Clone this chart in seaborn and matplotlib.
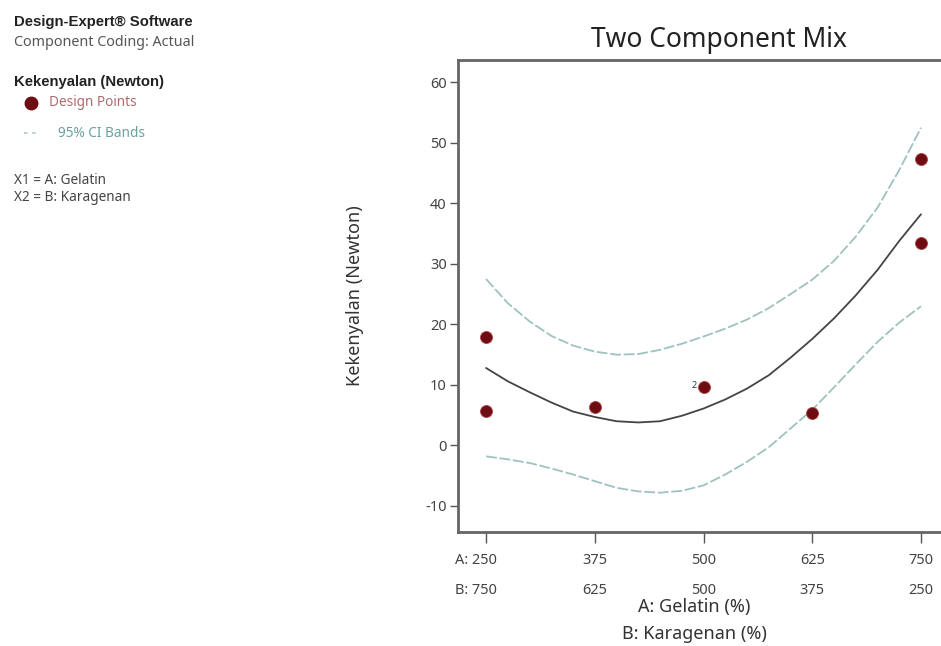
import matplotlib
matplotlib.use("Agg")
import matplotlib.pyplot as plt
from matplotlib.transforms import ScaledTranslation
import seaborn as sns
import pandas as pd

sns.set_theme(style="white")
plt.rcParams['font.family'] = ['Noto Sans', 'DejaVu Sans']

# Design points (A: Gelatin level, response)
point_a = [250, 250, 375, 500, 625, 750, 750]
point_y = [18.0, 5.7, 6.3, 9.6, 5.4, 47.3, 33.5]

# Curve readings (fitted response and 95% CI bands)
curve_a = [250, 275, 300, 325, 350, 375, 400, 425, 450, 475, 500,
           525, 550, 575, 600, 625, 650, 675, 700, 725, 750]
fit_y = [12.8, 10.6, 8.8, 7.1, 5.6, 4.7, 4.0, 3.8, 4.0, 4.9, 6.1,
         7.6, 9.4, 11.6, 14.5, 17.6, 21.0, 24.8, 29.0, 33.8, 38.2]
upper_y = [27.5, 23.5, 20.5, 18.1, 16.5, 15.5, 15.0, 15.1, 15.8, 16.8, 18.0,
           19.3, 20.8, 22.7, 25.0, 27.4, 30.5, 34.5, 39.3, 45.5, 52.5]
lower_y = [-1.8, -2.3, -2.9, -3.8, -4.8, -5.9, -7.0, -7.6, -7.8, -7.5, -6.6,
           -4.8, -2.7, -0.3, 2.8, 5.9, 9.6, 13.4, 17.1, 20.3, 23.0]

tick_a = [250, 375, 500, 625, 750]
tick_labels = ["A: 250\nB: 750", "375\n625", "500\n500", "625\n375", "750\n250"]
y_ticks = [-10, 0, 10, 20, 30, 40, 50, 60]

fig = plt.figure(figsize=(9.41, 6.46), dpi=100)
ax = fig.add_axes([0.4867, 0.1765, 0.5133, 0.7307])

curves = pd.DataFrame({"A": curve_a, "fit": fit_y, "upper": upper_y, "lower": lower_y})
pts = pd.DataFrame({"A": point_a, "y": point_y})

sns.lineplot(data=curves, x="A", y="fit", ax=ax, color="#444444", lw=1.3)
sns.lineplot(data=curves, x="A", y="upper", ax=ax, color="#9fc2bf", lw=1.3)
sns.lineplot(data=curves, x="A", y="lower", ax=ax, color="#9fc2bf", lw=1.3)
for l in ax.lines[1:]:
    l.set_linestyle((0, (6, 1.5)))
sns.scatterplot(data=pts, x="A", y="y", ax=ax, color="#6e0c14", s=75, edgecolor="#b0474c",
                linewidth=0.6, zorder=5)
ax.text(492, 9.9, "2", fontsize=6.5, color="#333333", ha="right", va="center", fontweight="bold")

ax.set_xlim(217.7, 773)
ax.set_ylim(-14.3, 63.7)
ax.set_xticks(tick_a)
ax.set_xticklabels(tick_labels, fontsize=10.5, color="#444444", linespacing=2.35)
ax.set_yticks(y_ticks)
ax.set_yticklabels([str(v) for v in y_ticks], fontsize=10.5, color="#444444")
ax.tick_params(axis="both", direction="out", width=1, color="#555555",
               bottom=True, left=True)
ax.tick_params(axis="x", length=8, pad=7)
ax.tick_params(axis="y", length=6, pad=2)
first = ax.get_xticklabels()[0]
first.set_horizontalalignment("right")
first.set_transform(first.get_transform() + ScaledTranslation(11 / 100, 0, fig.dpi_scale_trans))
for s in ["left", "bottom", "top"]:
    ax.spines[s].set_color("#666666")
    ax.spines[s].set_linewidth(2)
ax.spines["right"].set_visible(False)
ax.set_xlabel("A: Gelatin (%)\nB: Karagenan (%)", fontsize=13, color="#333333",
              linespacing=1.7, labelpad=0, x=0.489)
ax.set_ylabel("Kekenyalan (Newton)", fontsize=13, color="#333333", labelpad=44)
ax.set_title("Two Component Mix", fontsize=19, color="#222222", pad=9, x=0.54)

# Side legend / info panel
bold = ['Liberation Sans', 'DejaVu Sans']
fig.text(0.015, 0.966, "Design-Expert\u00ae Software", fontsize=10.7, fontweight="bold",
         family=bold, color="#222222", va="center")
fig.text(0.015, 0.934, "Component Coding: Actual", fontsize=10.3, color="#555555", va="center")
fig.text(0.015, 0.873, "Kekenyalan (Newton)", fontsize=10.7, fontweight="bold",
         family=bold, color="#222222", va="center")
fig.add_artist(plt.Line2D([0.033], [0.841], transform=fig.transFigure, marker="o",
                          markersize=9, color="#6e0c14", linestyle="none"))
fig.text(0.052, 0.841, "Design Points", fontsize=9.8, color="#b06a70", va="center")
fig.add_artist(plt.Line2D([0.025, 0.043], [0.794, 0.794], transform=fig.transFigure,
                          color="#b8cccc", lw=1.3, linestyle=(0, (2, 2.5))))
fig.text(0.062, 0.794, "95% CI Bands", fontsize=9.8, color="#6aa0a0", va="center")
fig.text(0.015, 0.721, "X1 = A: Gelatin", fontsize=9.8, color="#444444", va="center")
fig.text(0.015, 0.695, "X2 = B: Karagenan", fontsize=9.8, color="#444444", va="center")

fig.savefig("out.png", dpi=100, facecolor="white")
